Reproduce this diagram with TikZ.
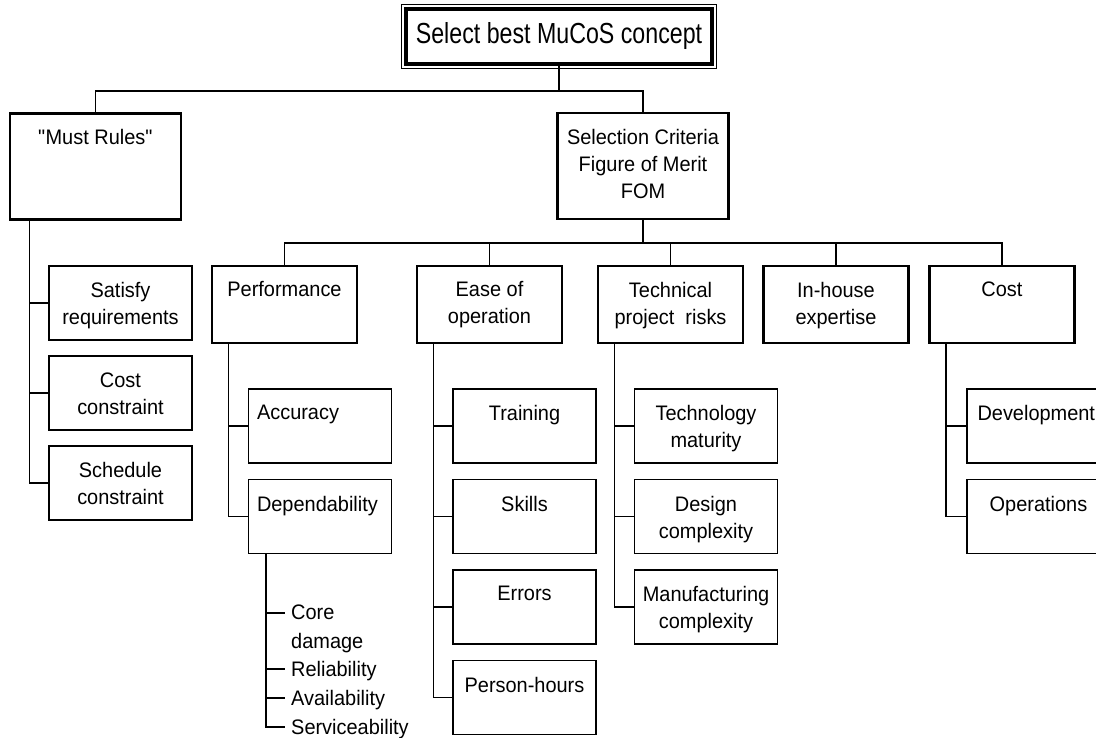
\documentclass[tikz,border=0pt]{standalone}
\usepackage{fontspec}
\setmainfont[FakeStretch=0.95]{Liberation Sans}
\newfontfamily\goalfont[FakeStretch=0.8]{Liberation Sans}
\begin{document}
\begin{tikzpicture}[x=1pt,y=-1pt,
  bigbox/.style={draw, line width=2.8pt, minimum width=171pt, minimum height=106pt, inner sep=0pt},
  midbox/.style={draw, line width=2.8pt, minimum width=145pt, minimum height=77pt, inner sep=0pt},
  smallbox/.style={draw, line width=1.4pt, minimum width=143pt, minimum height=74pt, inner sep=0pt},
  boxtext/.style={anchor=north, align=center, inner sep=0pt, font=\fontsize{21}{27}\selectfont},
  lefttext/.style={anchor=north west, align=left, inner sep=0pt, font=\fontsize{21}{27}\selectfont},
  listtext/.style={anchor=west, inner sep=0pt, text height=15pt, text depth=0pt, font=\fontsize{21}{29}\selectfont},
  link/.style={line width=1.4pt}]
\useasboundingbox (0,0) rectangle (1096,738);
\node[draw, line width=3.5pt, minimum width=306pt, minimum height=55pt, inner sep=0pt, font=\goalfont\fontsize{29}{34}\selectfont] (goal) at (559,36.5){Select best MuCoS concept};
\draw[line width=1.3pt] ([xshift=-3pt,yshift=3pt]goal.north west) rectangle ([xshift=3pt,yshift=-3pt]goal.south east);
\node[bigbox] (must) at (95.5,166.5){};
\node[bigbox] (crit) at (643,166){};
\node[boxtext] (must-t) at ([yshift=-17pt]must.north){\textquotedbl Must Rules\textquotedbl};
\node[boxtext] (crit-t) at ([yshift=-17pt]crit.north){Selection Criteria\\Figure of Merit\\FOM};
\coordinate (bus1) at (0,91);
\draw[link] (goal.south) -- (goal.south |- bus1);
\draw[link] (must.north) |- (bus1 -| crit.north) -- (crit.north);
\node[smallbox] (sat) at (120.5,303){};
\node[smallbox] (cons) at (120.5,393){};
\node[smallbox] (sched) at (120.5,483){};
\node[boxtext] (sat-t) at ([yshift=-17pt]sat.north){Satisfy\\requirements};
\node[boxtext] (cons-t) at ([yshift=-17pt]cons.north){Cost\\constraint};
\node[boxtext] (sched-t) at ([yshift=-17pt]sched.north){Schedule\\constraint};
\foreach \c in {sat,cons,sched}
  \draw[link] ([xshift=21pt]must.south west) |- (\c.west);
\node[midbox] (perf) at (284.5,304.5){};
\node[midbox] (ease) at (489.5,304.5){};
\node[midbox] (tech) at (670.5,304.5){};
\node[midbox] (house) at (836,304.5){};
\node[midbox] (cost) at (1002,304.5){};
\node[boxtext] (perf-t) at ([yshift=-17pt]perf.north){Performance};
\node[boxtext] (ease-t) at ([yshift=-17pt]ease.north){Ease of\\operation};
\node[boxtext] (tech-t) at ([yshift=-17pt]tech.north){Technical\\project\ \ risks};
\node[boxtext] (house-t) at ([yshift=-17pt]house.north){In-house\\expertise};
\node[boxtext] (cost-t) at ([yshift=-17pt]cost.north){Cost};
\coordinate (bus2) at (0,243);
\draw[link] (crit.south) -- (crit.south |- bus2);
\draw[link] (perf.north) |- (bus2 -| cost.north) -- (cost.north);
\foreach \n in {ease,tech,house}
  \draw[link] (\n.north) -- (\n.north |- bus2);
\node[smallbox] (acc) at (320,426){};
\node[smallbox] (dep) at (320,516.5){};
\node[lefttext] (acc-t) at ([xshift=9pt,yshift=-17pt]acc.north west){Accuracy};
\node[lefttext] (dep-t) at ([xshift=9pt,yshift=-17pt]dep.north west){Dependability};
\foreach \c in {acc,dep}
  \draw[link] ([xshift=18pt]perf.south west) |- (\c.west);
\node[lefttext, font=\fontsize{21}{29}\selectfont] (core) at (291,605){Core\\damage};
\node[listtext] (rel) at (291,669){Reliability};
\node[listtext] (avail) at (291,698){Availability};
\node[listtext] (serv) at (291,727){Serviceability};
\draw[link] ([xshift=18pt]dep.south west) |- ([xshift=-6pt]serv.west);
\draw[link] ([xshift=18pt]dep.south west) |- ([xshift=-6pt,yshift=-8pt]core.north west);
\foreach \c in {rel,avail}
  \draw[link] ([xshift=18pt]dep.south west) |- ([xshift=-6pt]\c.west);
\node[smallbox] (train) at (524.5,426){};
\node[smallbox] (skill) at (524.5,516.5){};
\node[smallbox] (err) at (524.5,607){};
\node[smallbox] (hours) at (524.5,697.5){};
\node[boxtext] (train-t) at ([yshift=-17pt]train.north){Training};
\node[boxtext] (skill-t) at ([yshift=-17pt]skill.north){Skills};
\node[boxtext] (err-t) at ([yshift=-17pt]err.north){Errors};
\node[boxtext] (hours-t) at ([yshift=-17pt]hours.north){Person-hours};
\foreach \c in {train,skill,err,hours}
  \draw[link] ([xshift=18pt]ease.south west) |- (\c.west);
\node[smallbox] (matur) at (706,426){};
\node[smallbox] (design) at (706,516.5){};
\node[smallbox] (manuf) at (706,607){};
\node[boxtext] (matur-t) at ([yshift=-17pt]matur.north){Technology\\maturity};
\node[boxtext] (design-t) at ([yshift=-17pt]design.north){Design\\complexity};
\node[boxtext] (manuf-t) at ([yshift=-17pt]manuf.north){Manufacturing\\complexity};
\foreach \c in {matur,design,manuf}
  \draw[link] ([xshift=18pt]tech.south west) |- (\c.west);
\node[smallbox] (dev) at (1038.5,426){};
\node[smallbox] (ops) at (1038.5,516.5){};
\node[lefttext] (dev-t) at ([xshift=11pt,yshift=-17pt]dev.north west){Development};
\node[boxtext] (ops-t) at ([yshift=-17pt]ops.north){Operations};
\foreach \c in {dev,ops}
  \draw[link] ([xshift=18pt]cost.south west) |- (\c.west);
\end{tikzpicture}
\end{document}
